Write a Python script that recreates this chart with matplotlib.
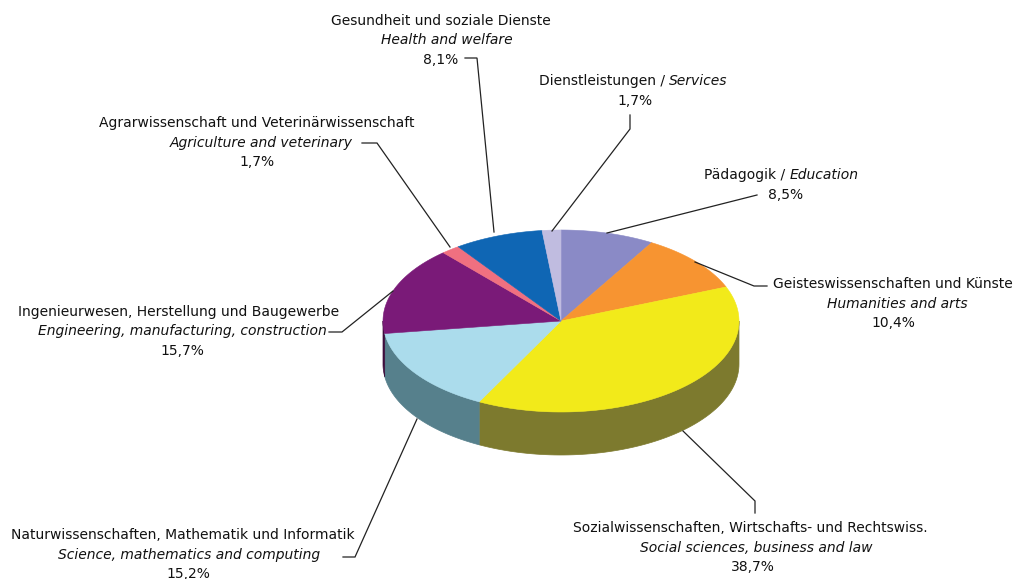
import numpy as np
import matplotlib
matplotlib.use('Agg')
import matplotlib.pyplot as plt

# slices clockwise from 12 o'clock
labels_de = ['Pädagogik / ', 'Geisteswissenschaften und Künste',
             'Sozialwissenschaften, Wirtschafts- und Rechtswiss.',
             'Naturwissenschaften, Mathematik und Informatik',
             'Ingenieurwesen, Herstellung und Baugewerbe',
             'Agrarwissenschaft und Veterinärwissenschaft',
             'Gesundheit und soziale Dienste', 'Dienstleistungen / ']
labels_en = ['Education', 'Humanities and arts', 'Social sciences, business and law',
             'Science, mathematics and computing',
             'Engineering, manufacturing, construction', 'Agriculture and veterinary',
             'Health and welfare', 'Services']
values = [8.5, 10.4, 38.7, 15.2, 15.7, 1.7, 8.1, 1.7]
top_colors = ['#8a8ac6', '#f79431', '#f2ea1a', '#abdcec', '#7a1a78', '#f07080', '#0f66b4', '#c0bce0']
side_colors = ['#45456a', '#7c4a18', '#7d7a2e', '#56808c', '#3d0d3c', '#783840', '#07335a', '#605e70']

# pie geometry in pixels
CX, CY, RX, RY, DEPTH = 561, 321, 178, 91, 43

# german x, english x, percent x, first line y
label_pos = [(781, 781, 786, 175), (893, 897, 893, 284), (750, 756, 753, 528),
             (183, 189, 188, 535), (179, 182, 182, 312), (257, 261, 257, 123),
             (441, 447, 441, 21), (633, 633, 635, 81)]
leaders = [
    [(757, 195), (607, 233)],
    [(767, 286), (754, 286), (695, 262)],
    [(755, 513), (755, 501), (683, 431)],
    [(343, 557), (355, 557), (417, 419)],
    [(329, 332), (342, 332), (393, 291)],
    [(362, 143), (377, 143), (450, 247)],
    [(465, 58), (477, 58), (494, 232)],
    [(630, 115), (630, 129), (552, 231)],
]

FONT = 'DejaVu Sans'
FS = 10


def ellipse_pts(a0, a1, cy=CY):
    a = np.radians(np.linspace(a0, a1, 80))
    return CX + RX * np.sin(a), cy - RY * np.cos(a)


def main():
    fig = plt.figure(figsize=(10.15, 5.79), dpi=100)
    ax = fig.add_axes([0, 0, 1, 1])
    ax.set_xlim(0, 1015)
    ax.set_ylim(579, 0)
    ax.axis('off')

    edges = np.concatenate([[0], np.cumsum(values)]) / np.sum(values) * 360

    # side wall, only the front half shows
    for i in range(len(values)):
        a0, a1 = max(edges[i], 90), min(edges[i + 1], 270)
        if a1 <= a0:
            continue
        x, y = ellipse_pts(a0, a1)
        ax.fill(np.r_[x, x[::-1]], np.r_[y, y[::-1] + DEPTH], color=side_colors[i], lw=0.5, zorder=1)

    # top face
    for i in range(len(values)):
        x, y = ellipse_pts(edges[i], edges[i + 1])
        ax.fill(np.r_[CX, x], np.r_[CY, y], color=top_colors[i], lw=0.4, zorder=2)

    for pts in leaders:
        xs, ys = zip(*pts)
        ax.plot(xs, ys, color='#222222', lw=0.9, zorder=3, solid_joinstyle='miter')

    fig.canvas.draw()
    r = fig.canvas.get_renderer()
    for i in range(len(values)):
        x_de, x_en, x_pct, y = label_pos[i]
        pct = f'{values[i]:.1f}%'.replace('.', ',')
        if labels_de[i].endswith('/ '):
            # one line: german / english
            de = ax.text(x_de, y, labels_de[i], ha='right', va='center', family=FONT, fontsize=FS, color='#111111')
            en = ax.text(x_de, y, labels_en[i], ha='left', va='center', family=FONT, fontsize=FS,
                         style='italic', color='#111111')
            mid = x_de + (de.get_window_extent(r).width - en.get_window_extent(r).width) / 2
            de.set_x(mid)
            en.set_x(mid)
            ax.text(x_pct, y + 20, pct, ha='center', va='center', family=FONT, fontsize=FS, color='#111111')
        else:
            ax.text(x_de, y, labels_de[i], ha='center', va='center', family=FONT, fontsize=FS, color='#111111')
            ax.text(x_en, y + 19.5, labels_en[i], ha='center', va='center', family=FONT, fontsize=FS,
                    style='italic', color='#111111')
            ax.text(x_pct, y + 39, pct, ha='center', va='center', family=FONT, fontsize=FS, color='#111111')

    fig.savefig('out.png', dpi=100)


if __name__ == "__main__":
    main()
